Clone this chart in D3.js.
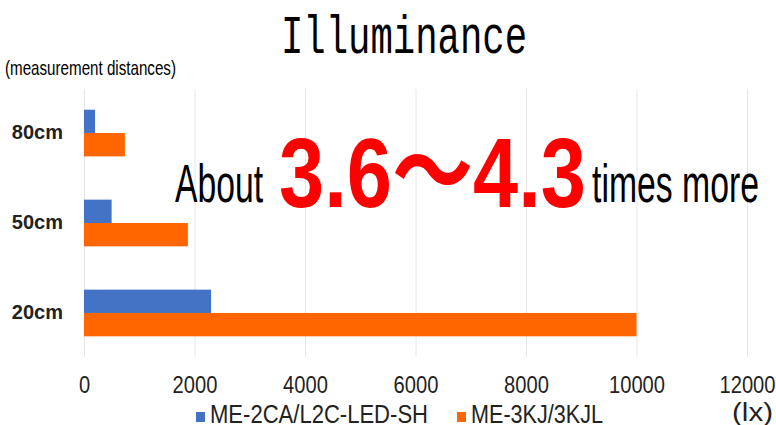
<!DOCTYPE html>
<html lang="en">
<head>
  <meta charset="UTF-8">
  <title>Illuminance</title>
  <style>
    body, html {
      margin: 0;
      padding: 0;
      background-color: white;
    }
    #svg {
      display: block;
      font-family: "Liberation Sans", Arial, sans-serif;
    }
  </style>
</head>
<body>
  <svg id="svg" width="776" height="425"></svg>
  <script src="https://d3js.org/d3.v7.min.js"></script>
  <script>
    // values (lx)
    const distances = ['80cm', '50cm', '20cm']
    const series = ['ME-2CA/L2C-LED-SH', 'ME-3KJ/3KJL']
    const oldLamp = [200, 500, 2300]
    const newLamp = [740, 1880, 10000]
    const xTicks = [0, 2000, 4000, 6000, 8000, 10000, 12000]
    const colors = ['#4472C4', '#FF6600']

    const data = distances.map((d, i) => ({ distance: d, values: [oldLamp[i], newLamp[i]] }))

    const plotLeft = 84, plotRight = 747, plotTop = 89, plotBottom = 357
    const svg = d3.select('#svg')

    const xScale = d3.scaleLinear()
      .domain([0, 12000])
      .range([plotLeft, plotRight])
    const yScale = d3.scaleBand()
      .domain(distances)
      .range([plotTop, plotBottom])
      .paddingInner(0.481)
      .paddingOuter(0.23)
    const subScale = d3.scaleBand()
      .domain(series)
      .range([0, yScale.bandwidth()])
    const colorScale = d3.scaleOrdinal()
      .domain(series)
      .range(colors)

    // gridlines
    const grid = svg.append('g')
      .attr('transform', `translate(0, ${plotBottom})`)
      .call(d3.axisBottom(xScale).tickValues(xTicks).tickSize(-(plotBottom - plotTop)).tickFormat(''))
    grid.select('.domain').remove()
    grid.selectAll('line').attr('stroke', '#e6e6e6').attr('stroke-width', 1)

    // bars
    svg.append('g')
      .selectAll('g')
      .data(data)
      .enter()
      .append('g')
      .attr('transform', d => `translate(0, ${yScale(d.distance)})`)
      .selectAll('rect')
      .data(d => d.values.map((v, i) => ({ key: series[i], value: v })))
      .enter()
      .append('rect')
      .attr('x', xScale(0))
      .attr('y', d => subScale(d.key))
      .attr('width', d => xScale(d.value) - xScale(0))
      .attr('height', subScale.bandwidth())
      .attr('fill', d => colorScale(d.key))

    // x axis labels
    const xAxis = svg.append('g')
      .attr('transform', `translate(0, ${plotBottom})`)
      .call(d3.axisBottom(xScale).tickValues(xTicks).tickSize(0).tickPadding(20).tickFormat(d3.format('d')))
    xAxis.select('.domain').remove()
    xAxis.selectAll('text')
      .attr('fill', '#222')
      .style('font-size', '23px')
      .style('font-family', '"Liberation Sans", Arial, sans-serif')
      .attr('textLength', d => String(d).length * 11.2)
      .attr('lengthAdjust', 'spacingAndGlyphs')

    // y axis labels
    const yAxis = svg.append('g')
      .attr('transform', `translate(${plotLeft}, 0)`)
      .call(d3.axisLeft(yScale).tickSize(0).tickPadding(21))
    yAxis.select('.domain').remove()
    yAxis.selectAll('text')
      .attr('fill', '#222')
      .style('font-size', '20px')
      .style('font-weight', 'bold')
      .style('font-family', '"Liberation Sans", Arial, sans-serif')

    // title
    svg.append('text')
      .attr('x', 281)
      .attr('y', 53)
      .attr('textLength', 246)
      .attr('lengthAdjust', 'spacingAndGlyphs')
      .style('font-family', '"Liberation Mono", monospace')
      .style('font-size', '54px')
      .attr('fill', '#000')
      .text('Illuminance')

    svg.append('text')
      .attr('x', 5)
      .attr('y', 75)
      .attr('textLength', 171)
      .attr('lengthAdjust', 'spacingAndGlyphs')
      .style('font-size', '21px')
      .attr('fill', '#000')
      .text('(measurement distances)')

    // annotation
    const note = svg.append('g')
    note.append('text')
      .attr('x', 175).attr('y', 202)
      .attr('textLength', 88)
      .attr('lengthAdjust', 'spacingAndGlyphs')
      .style('font-size', '54px')
      .attr('fill', '#000')
      .text('About')
    note.append('text')
      .attr('x', 279).attr('y', 207)
      .attr('textLength', 307)
      .attr('lengthAdjust', 'spacingAndGlyphs')
      .style('font-size', '99px')
      .style('font-weight', 'bold')
      .style('font-family', '"Liberation Sans", "Noto Sans CJK JP", sans-serif')
      .attr('fill', '#FF0000')
      .text('3.6～4.3')
    note.append('text')
      .attr('x', 592).attr('y', 202)
      .attr('textLength', 167)
      .attr('lengthAdjust', 'spacingAndGlyphs')
      .style('font-size', '54px')
      .attr('fill', '#000')
      .text('times more')

    // legend
    const legendX = [196, 457]
    const legend = svg.append('g')
      .selectAll('g')
      .data(series)
      .enter()
      .append('g')
      .attr('transform', (d, i) => `translate(${legendX[i]}, 0)`)
    legend.append('rect')
      .attr('x', 0).attr('y', 412)
      .attr('width', 9).attr('height', 10)
      .attr('fill', d => colorScale(d))
    legend.append('text')
      .attr('x', 14).attr('y', 423)
      .attr('textLength', (d, i) => [218, 132][i])
      .attr('lengthAdjust', 'spacingAndGlyphs')
      .style('font-size', '25px')
      .attr('fill', '#222')
      .text(d => d)

    svg.append('text')
      .attr('x', 732).attr('y', 421)
      .attr('textLength', 41)
      .attr('lengthAdjust', 'spacingAndGlyphs')
      .style('font-size', '25px')
      .attr('fill', '#222')
      .text('(lx)')
  </script>
</body>
</html>
